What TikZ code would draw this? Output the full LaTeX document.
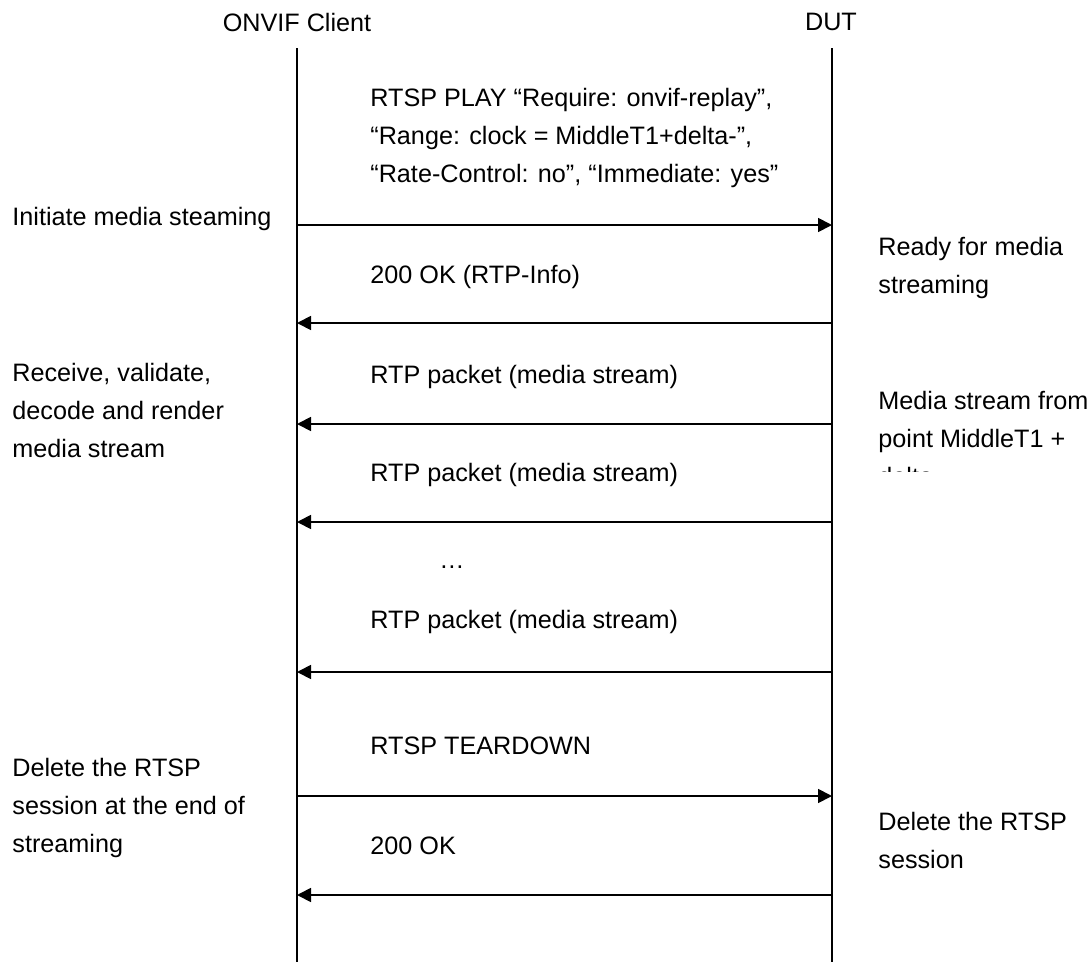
\documentclass[tikz,border=0pt]{standalone}
\usepackage{fontspec}
\setmainfont{Liberation Sans}
\usetikzlibrary{arrows.meta}

\begin{document}
\begin{tikzpicture}[x=0.5pt,y=-0.5pt,
    font=\fontsize{12.6}{19}\selectfont,
    lbl/.style={anchor=west,align=left,inner sep=0pt},
    life/.style={line width=0.9pt},
    msg/.style={line width=0.9pt,-{Triangle[length=7pt,width=7pt]}}]

      \useasboundingbox (0,0) rectangle (1089,964);

      % participants
      \node (client) at (297,22) {ONVIF Client};
      \node (dut) at (831,22) {DUT};

      % lifelines
      \coordinate (ctop) at (297,48);
      \coordinate (cbot) at (297,962);
      \coordinate (dtop) at (832,48);
      \coordinate (dbot) at (832,962);
      \draw[life] (ctop) -- (cbot);
      \draw[life] (dtop) -- (dbot);

      % message points on both lifelines
      \foreach \y [count=\i] in {225,323,424,522,672,796,895} {
        \coordinate (c\i) at (297,\y);
        \coordinate (d\i) at (832,\y);
      }

      % RTSP PLAY and its reply
      \node[lbl] (play) at (370,138) {RTSP PLAY “Require: onvif-replay”,\\“Range: clock = MiddleT1+delta-”,\\“Rate-Control: no”, “Immediate: yes”};
      \draw[msg] (c1) -- (d1);
      \node[lbl] (rtpinfo) at (370,277) {200 OK (RTP-Info)};
      \draw[msg] (d2) -- (c2);

      % media stream packets
      \node[lbl] (rtpa) at (370,377) {RTP packet (media stream)};
      \draw[msg] (d3) -- (c3);
      \node[lbl] (rtpb) at (370,475) {RTP packet (media stream)};
      \draw[msg] (d4) -- (c4);
      \node (dots) at (452,567) {…};
      \node[lbl] (rtpc) at (370,622) {RTP packet (media stream)};
      \draw[msg] (d5) -- (c5);

      % teardown
      \node[lbl] (teardown) at (370,746) {RTSP TEARDOWN};
      \draw[msg] (c6) -- (d6);
      \node[lbl] (ok) at (370,846) {200 OK};
      \draw[msg] (d7) -- (c7);

      % notes on the client side
      \node[lbl] (initiate) at (12,219) {Initiate media steaming};
      \node[lbl] (receive) at (12,410) {Receive, validate,\\decode and render\\media stream};
      \node[lbl] (delclient) at (12,808) {Delete the RTSP\\session at the end of\\streaming};

      % notes on the DUT side
      \node[lbl] (ready) at (878,268) {Ready for media\\streaming};
      \begin{scope}
        \clip (860,380) rectangle (1089,471);
        \node[lbl] (frompoint) at (878,438) {Media stream from\\point MiddleT1 +\\delta};
      \end{scope}
      \node[lbl] (deldut) at (878,840) {Delete the RTSP\\session};

    \end{tikzpicture}
\end{document}
